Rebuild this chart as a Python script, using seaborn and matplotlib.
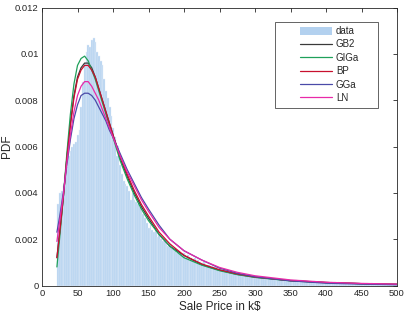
import numpy as np
import pandas as pd
import matplotlib
matplotlib.use("Agg")
import matplotlib.pyplot as plt
from matplotlib.patches import Rectangle
from matplotlib.lines import Line2D
from matplotlib.patches import Patch
import seaborn as sns

# ---------------- data ----------------
hist_heights = [
    0.0035, 0.0040, 0.0041, 0.0043, 0.0047, 0.0051, 0.0056, 0.0058, 0.0060, 0.0061,
    0.0062, 0.0065, 0.0067, 0.0077, 0.0088, 0.0096, 0.0101, 0.0104, 0.0103, 0.0106,
    0.0107, 0.0105, 0.0101, 0.0099, 0.0097, 0.0095, 0.0089, 0.0084, 0.0081, 0.0077,
    0.0073, 0.0068, 0.0064, 0.0056, 0.0060, 0.0052, 0.0048, 0.0045, 0.0044, 0.0043,
    0.0041, 0.0037, 0.0040, 0.0037, 0.0036, 0.0035, 0.0034, 0.0032, 0.0031, 0.0029,
    0.0027, 0.0025, 0.0026, 0.0024, 0.0023, 0.0024, 0.0021, 0.0022, 0.0020, 0.0019,
    0.0020, 0.0018, 0.0017, 0.0018, 0.0016, 0.0016, 0.0015, 0.0014, 0.0015, 0.0014,
    0.0013, 0.0014, 0.0012, 0.0013, 0.0011, 0.0012, 0.0011, 0.0012, 0.0010, 0.0011,
    0.0010, 0.00095, 0.0010, 0.0009, 0.00085, 0.0009, 0.0008, 0.00085, 0.00078, 0.0008,
    0.00072, 0.00075, 0.0007, 0.00066, 0.0007, 0.00062, 0.00065, 0.0006, 0.00058, 0.00055,
    0.00056, 0.0005, 0.00052, 0.00048, 0.0005, 0.00045, 0.00046, 0.00043, 0.00044, 0.0004,
    0.00042, 0.00038, 0.0004, 0.00036, 0.00038, 0.00034, 0.00035, 0.00032, 0.00034, 0.0003,
    0.00031, 0.00029, 0.0003, 0.00027, 0.00028, 0.00026, 0.00028, 0.00024, 0.00026, 0.00023,
    0.00025, 0.00022, 0.00024, 0.0002, 0.00022, 0.00021, 0.00019, 0.00022, 0.00018, 0.0002,
    0.00019, 0.00017, 0.00019, 0.00016, 0.00018, 0.00015, 0.00017, 0.00015, 0.00016, 0.00014,
    0.00015, 0.00013, 0.00015, 0.00012, 0.00014, 0.00012, 0.00013, 0.00011, 0.00013, 0.0001,
    0.00012, 0.0001, 0.00011, 0.00009, 0.00011, 0.0001, 0.00009, 0.00011, 0.00008, 0.0001,
    0.00009, 0.00008, 0.0001, 0.00007, 0.00009, 0.00008, 0.00007, 0.00009, 0.00006, 0.00008,
    0.00007, 0.00006, 0.00008, 0.00005, 0.00007, 0.00006, 0.00005, 0.00007, 0.00004, 0.00006,
    0.00005, 0.00004,
]
bin_start = 21.5
bin_width = 2.5

curve_x = [21, 25, 30, 35, 40, 45, 50, 55, 60, 65, 70, 75, 80, 85, 90, 95, 100,
           110, 120, 130, 140, 150, 165, 180, 200, 225, 250, 275, 300, 350, 400, 450, 500]

gb2 = [0.0012, 0.0023, 0.0038, 0.0055, 0.0070, 0.0082, 0.0090, 0.0094, 0.0096, 0.0096,
       0.0094, 0.0090, 0.0085, 0.0080, 0.0075, 0.0070, 0.0065, 0.0055, 0.0047, 0.0040,
       0.0034, 0.0029, 0.0022, 0.0017, 0.0013, 0.0009, 0.00066, 0.00048, 0.00036,
       0.00021, 0.00013, 0.00008, 0.00005]
giga = [0.0008, 0.0021, 0.0038, 0.0057, 0.0074, 0.0087, 0.0095, 0.0098, 0.0099, 0.0097,
        0.0093, 0.0089, 0.0084, 0.0079, 0.0074, 0.0069, 0.0064, 0.0054, 0.0046, 0.0039,
        0.0033, 0.0028, 0.0022, 0.0017, 0.0012, 0.00088, 0.00064, 0.00047, 0.00035,
        0.0002, 0.00012, 0.00008, 0.00005]
bp = [0.0012, 0.0023, 0.0038, 0.0055, 0.0069, 0.0081, 0.0089, 0.0093, 0.0095, 0.0095,
      0.0093, 0.0090, 0.0085, 0.0080, 0.0075, 0.0070, 0.0065, 0.0056, 0.0048, 0.0041,
      0.0035, 0.0030, 0.0023, 0.0018, 0.0013, 0.00093, 0.00068, 0.0005, 0.00037,
      0.00021, 0.00013, 0.00008, 0.00005]
gga = [0.0023, 0.0030, 0.0040, 0.0052, 0.0063, 0.0072, 0.0078, 0.0082, 0.0083, 0.0083,
       0.0082, 0.0080, 0.0077, 0.0074, 0.0071, 0.0067, 0.0064, 0.0057, 0.0050, 0.0044,
       0.0038, 0.0033, 0.0026, 0.0020, 0.0015, 0.0011, 0.00075, 0.00053, 0.00038,
       0.0002, 0.0001, 0.00006, 0.00003]
ln = [0.0019, 0.0028, 0.0039, 0.0053, 0.0065, 0.0075, 0.0082, 0.0086, 0.0088, 0.0088,
      0.0086, 0.0083, 0.0080, 0.0076, 0.0072, 0.0068, 0.0064, 0.0056, 0.0049, 0.0043,
      0.0037, 0.0032, 0.0025, 0.0020, 0.0015, 0.0011, 0.00078, 0.00057, 0.00042,
      0.00024, 0.00014, 0.00009, 0.00006]

series_names = ["GB2", "GIGa", "BP", "GGa", "LN"]
series_vals = [gb2, giga, bp, gga, ln]
series_colors = ["#3a3a3a", "#1fa05a", "#c8102e", "#4a4aa8", "#e82aa8"]

x_ticks = [0, 50, 100, 150, 200, 250, 300, 350, 400, 450, 500]
y_ticks = [0, 0.002, 0.004, 0.006, 0.008, 0.01, 0.012]
y_tick_labels = ["0", "0.002", "0.004", "0.006", "0.008", "0.01", "0.012"]

# ---------------- plot ----------------
sns.set_style("white")
plt.rcParams["font.family"] = ["Liberation Sans", "DejaVu Sans"]
txt = "#262626"

fig = plt.figure(figsize=(4.07, 3.15), dpi=100)
ax = fig.add_axes([42 / 407, 1 - 285.5 / 315, 355 / 407, 278 / 315])

n_bins = len(hist_heights)
edges = [float(bin_start + bin_width * i) for i in range(n_bins + 1)]
centers = [(edges[i] + edges[i + 1]) / 2 for i in range(n_bins)]
hdf = pd.DataFrame({"x": centers, "w": hist_heights})
sns.histplot(data=hdf, x="x", weights="w", bins=edges, stat="count",
             color="#b3d1ef", alpha=1.0, edgecolor="#e4eefa", linewidth=0.3, ax=ax)

for name, vals, col in zip(series_names, series_vals, series_colors):
    cdf = pd.DataFrame({"x": curve_x, "y": vals})
    sns.lineplot(data=cdf, x="x", y="y", color=col, linewidth=0.9, ax=ax,
                 estimator=None, sort=False)

ax.set_xlim(0, 500)
ax.set_ylim(0, 0.012)
ax.set_xticks(x_ticks)
ax.set_xticklabels([str(t) for t in x_ticks])
ax.set_yticks(y_ticks)
ax.set_yticklabels(y_tick_labels)
ax.tick_params(direction="in", length=3, width=0.6, color=txt, labelcolor=txt,
               labelsize=6.8, top=True, right=True, pad=2.5)
for sp in ax.spines.values():
    sp.set_color(txt)
    sp.set_linewidth(0.6)
ax.set_xlabel("Sale Price in k$", fontsize=8.5, color=txt, labelpad=2)
ax.set_ylabel("PDF", fontsize=8.5, color=txt)
ax.yaxis.set_label_coords(-0.083, 0.5)

# legend box (MATLAB style)
lx0 = (275 - 42) / 355
ly0 = (285.5 - 108) / 278
lw = (378 - 275) / 355
lh = (108 - 22) / 278
ax.add_patch(Rectangle((lx0, ly0), lw, lh, transform=ax.transAxes,
                       facecolor="white", edgecolor="#262626", linewidth=0.5, zorder=5))
handles = [Patch(facecolor="#b3d1ef", edgecolor="none")]
handles += [Line2D([0], [0], color=c, linewidth=0.9) for c in series_colors]
labels = ["data"] + series_names
leg = ax.legend(handles, labels, loc="upper left",
                bbox_to_anchor=((300 - 42) / 355, (285.5 - 26) / 278),
                frameon=False, fontsize=7, handlelength=3.3, handleheight=0.9,
                handletextpad=0.4, labelspacing=0.35, borderaxespad=0, borderpad=0)
leg.set_zorder(6)
for t in leg.get_texts():
    t.set_color(txt)

fig.savefig("out.png", dpi=100)
